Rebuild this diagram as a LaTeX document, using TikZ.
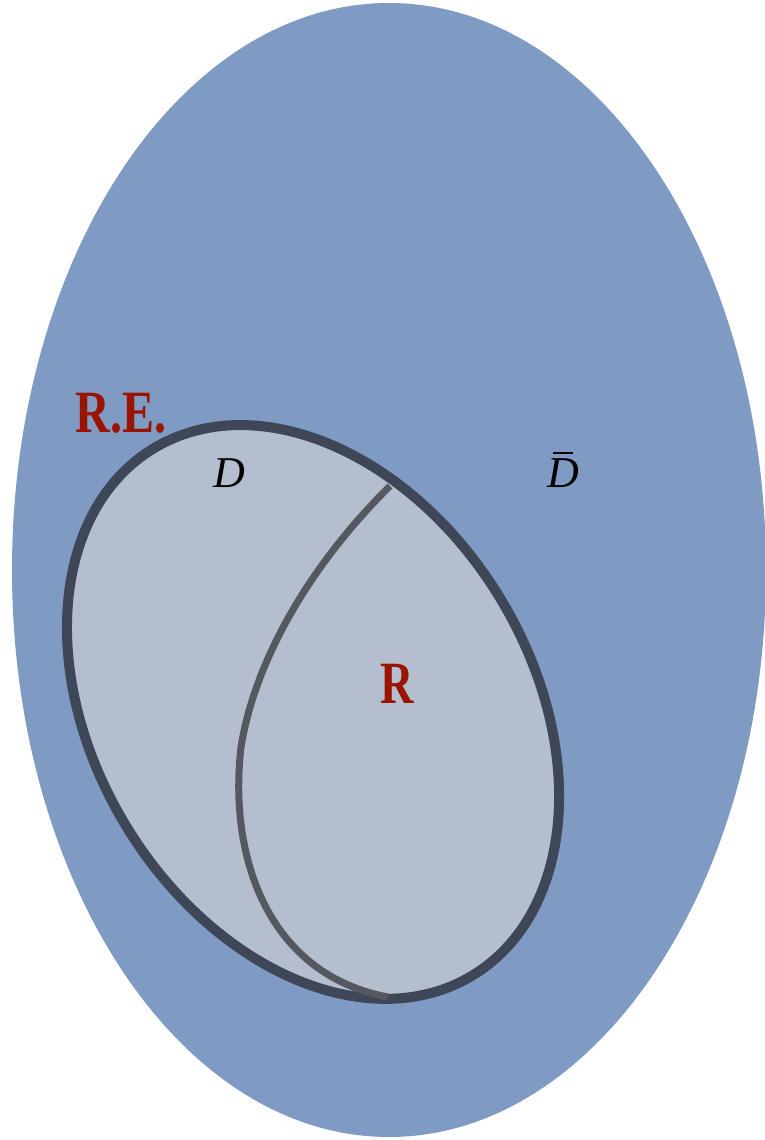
\documentclass[tikz,border=0pt]{standalone}
\usepackage{fontspec}
\setmainfont{Liberation Serif}
\definecolor{outerblue}{RGB}{127,155,196}
\definecolor{innerfill}{RGB}{180,190,207}
\definecolor{rimcol}{RGB}{62,70,88}
\definecolor{curvecol}{RGB}{85,88,95}
\definecolor{redtxt}{RGB}{155,20,0}
\tikzset{
  redlabel/.style={text=redtxt, font=\bfseries\fontsize{60}{62}\selectfont, inner sep=0pt, anchor=base},
  setlabel/.style={text=black, font=\itshape\fontsize{44}{46}\selectfont, inner sep=0pt, anchor=base},
}
\newcommand{\barD}{\ooalign{D\cr\hfil\raisebox{0.74em}{\rule{0.45em}{0.05em}}\hfil\cr}}
\begin{document}
\begin{tikzpicture}[x=1pt,y=-1pt]
\useasboundingbox (0,0) rectangle (764,1140);
\fill[white] (0,0) rectangle (764,1140);
% universe
\fill[outerblue] (389,570) ellipse[x radius=377, y radius=567];
% R.E. set
\coordinate (rec) at (313,712);
\filldraw[fill=innerfill, draw=rimcol, line width=10pt, rotate around={-58.8:(rec)}] (rec) ellipse[x radius=308, y radius=219];
% R boundary
\coordinate (ctop) at (390,486);
\coordinate (cmid) at (241,747);
\coordinate (cbot) at (388,997);
\draw[curvecol, line width=7pt] (ctop) .. controls (310,565) and (255,660) .. (cmid)
  .. controls (228,860) and (270,975) .. (cbot);
% labels
\node[redlabel] (re) at (121,432) {\scalebox{0.8}[1]{R.E.}};
\node[redlabel] (r) at (397,703) {\scalebox{0.77}[1]{R}};
\node[setlabel] (d) at (229,487) {D};
\node[setlabel] (db) at (563,487) {\barD};
\end{tikzpicture}
\end{document}
